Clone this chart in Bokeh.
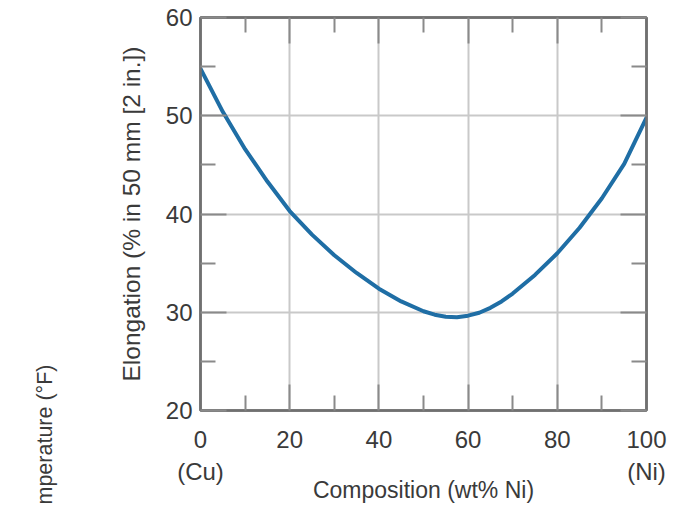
from bokeh.plotting import figure
from bokeh.layouts import row
from bokeh.models import Range1d, FixedTicker, LinearAxis, CustomJSTickFormatter, Title
from bokeh.embed import file_html
from bokeh.resources import INLINE

# Data
ni_wt = [0, 5, 10, 15, 20, 25, 30, 35, 40, 45, 50, 52.5, 55, 57.5, 60, 62.5, 65,
         67.5, 70, 75, 80, 85, 90, 95, 100]
elongation = [54.8, 50.4, 46.6, 43.3, 40.3, 37.9, 35.8, 34.0, 32.4, 31.1, 30.1,
              29.75, 29.55, 29.5, 29.65, 29.95, 30.45, 31.1, 31.9, 33.8, 36.0,
              38.6, 41.6, 45.1, 49.8]

x_major = [0, 20, 40, 60, 80, 100]
x_minor = [10, 30, 50, 70, 90]
x_labels = {0: "0\n(Cu)", 100: "100\n(Ni)"}
y_major = [20, 30, 40, 50, 60]
y_minor = [25, 35, 45, 55]

x_title = "Composition (wt% Ni)"
y_title = "Elongation (% in 50 mm [2 in.])"
side_title = "mperature (°F)"

FONT = "Liberation Sans"
TXT = "#3a3a3a"
FRAME = "#707070"
GRID = "#c9c9c9"
TICK = "#8a8a8a"

STRIP_W = 100

p = figure(width=674 - STRIP_W, height=505, output_backend="svg", toolbar_location=None,
           x_range=Range1d(0, 100), y_range=Range1d(20, 60),
           min_border_left=200 - STRIP_W, min_border_right=28, min_border_top=17,
           min_border_bottom=88, x_axis_location=None, y_axis_location=None)

p.background_fill_color = "white"
p.border_fill_color = "white"
p.outline_line_color = FRAME
p.outline_line_width = 2.5

xt = FixedTicker(ticks=x_major, minor_ticks=x_minor)
yt = FixedTicker(ticks=y_major, minor_ticks=y_minor)


def style_axis(ax, show_labels):
    ax.major_tick_in = 26
    ax.major_tick_out = 0
    ax.minor_tick_in = 15
    ax.minor_tick_out = 0
    ax.major_tick_line_color = TICK
    ax.major_tick_line_width = 2
    ax.minor_tick_line_color = TICK
    ax.minor_tick_line_width = 2
    ax.axis_line_color = FRAME
    ax.axis_line_width = 2.5
    if show_labels:
        ax.major_label_text_font = FONT
        ax.major_label_text_font_size = "24px"
        ax.major_label_text_color = TXT
        ax.axis_label_text_font = FONT
        ax.axis_label_text_font_style = "normal"
        ax.axis_label_text_color = TXT
    else:
        ax.formatter = CustomJSTickFormatter(code="return ''")
        ax.major_label_standoff = 0


xb = LinearAxis(ticker=xt, axis_label=x_title)
style_axis(xb, True)
xb.major_label_overrides = x_labels
xb.major_label_standoff = 15
xb.axis_label_standoff = -11
xb.axis_label_text_font_size = "23px"
p.add_layout(xb, "below")

yl = LinearAxis(ticker=yt, axis_label=y_title)
style_axis(yl, True)
yl.major_label_standoff = 8
yl.axis_label_standoff = 18
yl.axis_label_text_font_size = "24.5px"
p.add_layout(yl, "left")

xtop = LinearAxis(ticker=xt)
style_axis(xtop, False)
p.add_layout(xtop, "above")

yr = LinearAxis(ticker=yt)
style_axis(yr, False)
p.add_layout(yr, "right")

p.xgrid.ticker = xt
p.ygrid.ticker = yt
p.xgrid.grid_line_color = GRID
p.ygrid.grid_line_color = GRID
p.xgrid.grid_line_width = 2
p.ygrid.grid_line_width = 2

p.line(ni_wt, elongation, line_color="#1f6ea5", line_width=4, line_join="round",
       line_cap="round")

# Narrow strip on the left holding the cut-off title of the neighbouring figure
strip = figure(width=STRIP_W, height=505, output_backend="svg", toolbar_location=None,
               x_range=Range1d(0, 1), y_range=Range1d(0, 1),
               min_border_left=0, min_border_right=0, min_border_top=17,
               min_border_bottom=88, x_axis_location=None, y_axis_location=None)
strip.outline_line_color = None
strip.grid.visible = False
strip.add_layout(Title(text=side_title, align="left", offset=-94, standoff=63,
                       vertical_align="middle", text_font=FONT,
                       text_font_size="21.5px", text_font_style="normal",
                       text_color=TXT), "left")

layout = row(strip, p)
open("out.html", "w").write(file_html(layout, INLINE))
